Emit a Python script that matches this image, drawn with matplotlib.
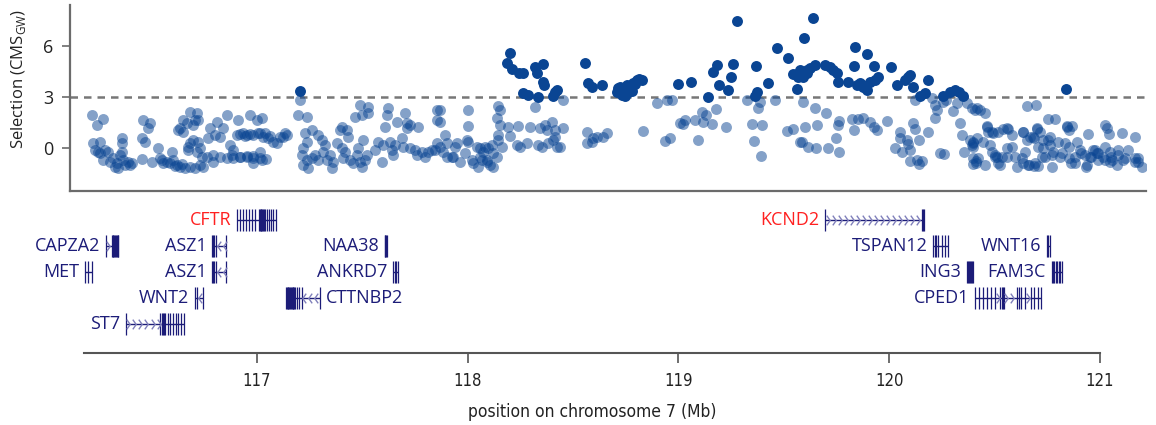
import numpy as np
import matplotlib
matplotlib.use("Agg")
import matplotlib.pyplot as plt
from matplotlib.path import Path

plt.rcParams['font.family'] = ['Open Sans', 'DejaVu Sans']
plt.rcParams['mathtext.fontset'] = 'custom'
plt.rcParams['mathtext.rm'] = 'Open Sans'

# [ CMS SCORES ALONG THE REGION ] position in Mb, score
#=============================================================================
pos_a = [116.217, 116.240, 116.272, 116.224, 116.232, 116.256, 116.248, 116.280, 116.295, 116.272,
         116.319, 116.327, 116.335, 116.359, 116.359, 116.359, 116.351, 116.366, 116.398, 116.374,
         116.461, 116.493, 116.485, 116.454, 116.469, 116.454, 116.501, 116.532, 116.548, 116.572,
         116.596, 116.588, 116.603, 116.619, 116.635, 116.659, 116.682, 116.706, 116.730, 116.746,
         116.682, 116.674, 116.682, 116.714, 116.706, 116.651, 116.635, 116.667, 116.698, 116.722,
         116.651, 116.627, 116.698, 116.722, 116.714, 116.738, 116.769, 116.777, 116.809, 116.840,
         116.801, 116.825, 116.856, 116.793, 116.762, 116.793, 116.825, 116.856, 116.872, 116.888,
         116.888, 116.911, 116.904, 116.935, 116.951, 116.967, 116.983, 116.919, 116.951, 116.983,
         116.998, 117.006, 116.919, 116.943, 116.967, 117.038, 117.062, 117.123, 117.142, 116.882,
         116.919, 116.953, 116.981, 117.014, 117.043, 116.981, 116.256, 116.303, 116.343, 116.390,
         116.408, 116.540, 116.555, 116.612, 116.645, 116.673, 116.730]
cms_a = [1.94, 1.35, 1.69, 0.28, -0.12, 0.37, -0.22, -0.12, -0.22, -0.71,
         -0.61, -1.10, -0.90, 0.57, 0.28, -0.22, -0.41, -0.71, -1.00, -1.00,
         1.65, 1.45, 1.16, 0.57, 0.37, -0.67, -0.80, -0.02, -0.71, -0.80,
         -0.22, -0.90, -0.71, -1.00, -1.10, -1.20, -1.10, -1.20, -1.00, -1.10,
         0.28, -0.12, 2.14, 2.04, 1.65, 1.65, 1.16, 1.45, 1.35, 1.65,
         0.96, 1.06, 0.47, 0.37, -0.22, -0.51, 0.57, 1.16, 1.55, 1.16,
         0.76, 0.67, 1.94, -0.41, -0.51, -0.80, -0.51, -0.61, 0.18, -0.12,
         -0.61, 1.65, 0.76, 0.86, 0.76, 1.94, 0.76, -0.51, -0.51, -0.61,
         1.65, 0.86, 0.82, 0.71, 0.82, 0.88, 0.71, 0.65, 0.76, -0.41,
         -0.53, -0.47, -0.47, -0.59, -0.65, -0.88, -0.30, -0.80, -1.15, -0.85,
         -0.88, -0.59, -0.88, -1.05, -0.95, 0.06, -0.02]

pos_b = [117.204, 117.204, 117.196, 117.236, 117.022, 117.014, 117.030, 117.054, 117.077, 117.093,
         117.109, 117.133, 117.022, 117.014, 117.227, 117.259, 117.291, 117.307, 117.219, 117.236,
         117.212, 117.236, 117.259, 117.219, 117.243, 117.275, 117.291, 117.314, 117.322, 117.330,
         117.346, 117.354, 117.362, 117.378, 117.393, 117.401, 117.433, 117.425, 117.401, 117.417,
         117.409, 117.441, 117.457, 117.480, 117.472, 117.488, 117.496, 117.512, 117.520, 117.464,
         117.488, 117.528, 117.496, 117.528, 117.504, 117.559, 117.575, 117.591, 117.599, 117.615,
         117.623, 117.607, 117.630, 117.638, 117.646, 117.662, 117.654, 117.686, 117.701, 117.709,
         117.725, 117.764, 117.709, 117.694, 117.725, 117.749, 117.757, 117.780, 117.796, 117.812,
         117.828, 117.844, 117.852, 117.852, 117.852]
cms_b = [3.35, 2.82, 1.94, 1.84, 1.75, 0.86, 0.67, 0.57, 0.37, 0.28,
         0.67, 0.86, -0.71, -0.22, 0.86, 1.06, 0.76, 0.47, -0.02, 0.37,
         -0.41, -0.71, -0.61, -1.00, -1.20, -0.41, -0.71, -0.22, 0.18, -0.71,
         -0.41, -1.20, -0.80, 0.28, 1.06, 1.25, 0.67, 1.06, -0.02, -0.22,
         -0.61, -0.71, -0.90, -0.02, -0.41, -0.80, -1.10, -0.71, -0.41, 1.84,
         2.53, 2.43, 1.94, 2.04, 0.47, -0.12, 0.37, -0.80, 0.18, 1.94,
         2.33, 1.25, 0.37, -0.12, -0.41, 1.55, 0.18, 0.57, 2.04, 1.45,
         1.35, 1.25, 1.20, 0.08, -0.02, -0.12, -0.41, -0.22, -0.51, -0.22,
         -0.12, -0.12, 0.28, 1.65, 2.24]

pos_c = [118.199, 118.183, 118.207, 118.243, 118.259, 118.318, 118.354, 118.325, 118.357, 118.360,
         118.262, 118.286, 118.333, 118.412, 118.404, 118.420, 118.555, 118.570, 118.586, 118.636,
         118.705, 118.452, 118.318, 118.144, 118.152, 118.136, 118.152, 118.191, 118.238, 118.294,
         118.341, 118.365, 118.397, 118.452, 118.373, 118.412, 118.199, 118.144, 118.231, 118.246,
         118.278, 118.333, 118.349, 118.381, 118.404, 118.420, 118.436, 118.412, 118.001, 118.001,
         117.867, 117.867, 117.891, 117.867, 117.899, 117.938, 117.946, 118.001, 118.041, 118.057,
         118.081, 118.096, 118.112, 118.144, 118.160, 118.073, 118.120, 117.930, 117.962, 117.986,
         118.018, 118.025, 118.049, 118.065, 118.088, 118.104, 118.120, 118.136, 117.883, 117.899,
         118.562, 118.562, 118.594, 118.610, 118.641, 118.657, 118.586, 118.057, 118.090, 117.924,
         117.995]
cms_c = [5.61, 4.98, 4.63, 4.39, 4.43, 4.78, 4.94, 4.39, 3.90, 3.71,
         3.22, 3.12, 3.02, 3.31, 3.06, 3.41, 5.02, 3.81, 3.61, 3.71,
         3.31, 2.82, 2.39, 2.47, 2.24, 1.75, 1.35, 1.25, 1.29, 1.25,
         1.16, 1.35, 1.55, 1.16, 1.06, 1.06, 0.71, 0.76, 0.18, 0.08,
         0.28, 0.18, 0.08, 0.28, 0.47, 0.08, 0.08, 0.67, 2.24, 1.29,
         2.24, 1.55, 0.76, 0.08, 0.28, 0.08, 0.28, 0.37, 0.08, -0.02,
         0.08, -0.02, 0.18, 0.47, 0.08, -0.22, -0.32, -0.51, -0.80, -0.32,
         -0.71, -0.90, -1.10, -0.71, -0.80, -1.00, -1.10, -0.51, -0.22, -0.51,
         0.96, 0.28, 0.57, 0.67, 0.67, 0.86, 0.37, -0.53, -0.70, -0.53,
         0.47]

pos_d = [119.273, 118.720, 118.736, 118.752, 118.768, 118.752, 118.784, 118.799, 118.823, 118.775,
         118.994, 119.057, 119.139, 119.163, 119.182, 119.191, 119.234, 119.245, 119.257, 119.360,
         119.371, 119.363, 119.420, 119.466, 119.515, 119.541, 119.557, 119.565, 118.710, 118.728,
         118.744, 118.760, 118.790, 118.812, 118.894, 118.942, 118.965, 118.828, 118.934, 118.957,
         119.005, 119.028, 119.020, 119.076, 119.107, 119.115, 119.128, 119.155, 119.175, 119.088,
         119.223, 119.324, 119.344, 119.392, 119.373, 119.384, 119.357, 119.389, 119.453, 119.510,
         119.541, 119.573]
cms_d = [7.49, 3.61, 3.41, 3.71, 3.51, 3.22, 3.81, 4.00, 4.00, 3.35,
         3.76, 3.90, 3.02, 4.49, 4.88, 3.71, 3.41, 4.19, 4.92, 3.08,
         3.27, 4.82, 3.84, 5.86, 5.31, 4.35, 3.45, 4.19, 3.50, 3.10,
         3.05, 3.30, 3.75, 4.05, 2.63, 2.82, 2.82, 1.02, 0.43, 0.57,
         1.45, 1.65, 1.39, 1.65, 2.14, 1.55, 1.94, 1.39, 2.29, 0.47,
         1.25, 2.82, 1.39, 1.35, 2.33, 2.73, 0.41, -0.47, 2.82, 1.02,
         1.12, 0.37]

pos_e = [119.637, 119.592, 119.834, 119.892, 119.573, 119.605, 119.589, 119.645, 119.692, 119.716,
         119.732, 119.748, 119.755, 119.803, 119.827, 119.843, 119.867, 119.890, 119.905, 119.924,
         119.929, 119.945, 120.004, 120.033, 120.071, 120.087, 120.110, 120.181, 120.142, 120.166,
         120.251, 120.284, 120.308, 120.328, 120.344, 119.858, 119.872, 119.607, 119.620, 120.095,
         119.589, 119.645, 119.697, 119.597, 119.652, 119.581, 119.613, 119.649, 119.704, 119.757,
         119.744, 119.752, 119.760, 119.820, 119.847, 119.870, 119.827, 119.905, 119.924, 119.940,
         119.985, 120.047, 120.047, 120.079, 120.024, 120.055, 120.095, 120.087, 120.110, 120.118,
         120.139, 120.181, 120.095, 120.126, 120.150, 120.139, 120.118, 120.197, 120.213, 120.221,
         120.213, 120.251, 120.267, 120.299, 120.315, 120.332, 120.340, 120.351, 120.237, 120.256,
         120.364, 120.387, 120.403, 120.411, 120.395, 120.387, 120.408, 120.392, 120.419]
cms_e = [7.67, 6.49, 5.92, 5.51, 4.59, 4.59, 4.19, 4.88, 4.88, 4.78,
         4.59, 4.39, 3.90, 3.90, 4.82, 3.71, 3.71, 3.41, 3.90, 4.82,
         4.00, 4.19, 4.78, 3.71, 4.00, 4.19, 3.61, 4.00, 3.05, 3.22,
         3.08, 3.27, 3.41, 3.27, 3.08, 3.82, 3.60, 4.41, 4.70, 4.30,
         2.73, 2.33, 2.04, 1.25, 1.35, 0.37, 0.08, 0.02, -0.02, -0.22,
         0.61, 1.35, 1.59, 1.71, 1.71, 1.78, 1.06, 1.51, 1.22, 1.06,
         1.59, 0.96, 0.57, 0.47, -0.02, -0.22, -0.12, 0.22, 1.45, 1.12,
         0.47, 0.96, -0.76, -0.71, -0.76, -0.96, 2.82, 2.92, 2.53, 2.24,
         1.75, 2.69, 2.82, 2.18, 2.63, 1.45, 0.76, -0.22, -0.32, -0.37,
         2.63, 2.33, 2.24, 2.33, 0.37, 0.18, -0.76, -0.96, -0.61]

pos_f = [120.834, 120.648, 120.692, 120.427, 120.450, 120.750, 120.782, 120.837, 120.850, 120.861,
         120.940, 121.019, 121.027, 121.040, 121.098, 121.161, 120.458, 120.466, 120.490, 120.513,
         120.537, 120.561, 120.577, 120.632, 120.664, 120.695, 120.711, 120.680, 120.379, 120.442,
         120.395, 120.474, 120.482, 120.498, 120.395, 120.450, 120.505, 120.529, 120.553, 120.521,
         120.577, 120.592, 120.600, 120.624, 120.640, 120.656, 120.680, 120.703, 120.719, 120.727,
         120.750, 120.758, 120.774, 120.766, 120.798, 120.814, 120.829, 120.850, 120.850, 120.877,
         120.885, 120.900, 120.924, 120.932, 120.948, 120.963, 120.980, 120.987, 121.011, 121.019,
         121.043, 121.051, 121.074, 121.082, 121.114, 121.130, 121.161, 121.177, 121.193, 120.407,
         120.496, 120.512, 120.628, 120.660, 120.687, 120.735, 120.768, 120.806, 120.858, 120.877,
         120.905, 120.929, 120.953, 120.972, 120.986, 121.019, 121.043, 121.047, 121.080, 121.104,
         121.161, 121.175, 120.460, 120.483, 120.553, 120.630, 120.697, 120.678, 120.758, 120.839,
         120.393, 120.412, 120.553, 120.649, 120.701, 120.727]
cms_f = [3.45, 2.47, 2.53, 2.24, 2.08, 1.69, 1.69, 1.29, 1.06, 1.29,
         0.82, 1.35, 1.16, 0.82, 0.86, 0.67, 1.29, 0.96, 0.86, 0.96,
         1.10, 1.10, 0.76, 0.96, 0.67, 1.10, 0.96, 0.57, 0.47, 0.37,
         0.08, 0.18, -0.22, -0.41, -0.61, -1.00, -0.55, -0.55, -0.51, -1.00,
         0.08, -0.51, -1.10, -0.61, -0.22, -1.00, -1.06, -1.06, -0.51, -0.02,
         0.47, 0.18, -0.22, -1.10, 0.37, -0.32, 0.31, 0.08, -0.61, -0.90,
         0.37, -0.12, -0.41, -1.00, -0.51, -0.12, -0.32, -0.71, -0.51, 0.08,
         -0.22, -0.71, -1.00, -0.12, -0.61, -0.12, -0.61, -0.80, -1.10, -0.88,
         -0.53, -0.88, -0.88, -1.00, -0.88, -0.53, -0.41, -0.53, -0.88, -0.53,
         -0.30, -1.12, -0.53, -0.12, -0.30, -0.71, -0.82, -0.53, -0.41, -0.71,
         -0.82, -0.59, 1.24, 0.94, 1.18, 0.94, 1.18, 0.65, 0.65, 1.24,
         0.28, 0.59, 0.00, 0.47, 0.06, 0.47]

threshold = 3

# [ GENES ]  name, track row, strand, exon positions (Mb) - first/last = gene ends
#=============================================================================
gene_names  = ['CFTR', 'CAPZA2', 'ASZ1', 'NAA38', 'MET', 'ASZ1', 'ANKRD7', 'WNT2', 'CTTNBP2', 'ST7',
               'KCND2', 'TSPAN12', 'WNT16', 'ING3', 'FAM3C', 'CPED1']
gene_rows   = [0, 1, 1, 1, 2, 2, 2, 3, 3, 4,
               0, 1, 1, 2, 2, 3]
gene_strand = ['+', '+', '-', '+', '+', '-', '+', '-', '-', '+',
               '+', '-', '+', '+', '-', '+']
gene_exons = [
    [116.905, 116.919, 116.934, 116.948, 116.962, 116.976, 116.991, 117.009, 117.013, 117.017,
     117.021, 117.024, 117.028, 117.031, 117.038, 117.047, 117.057, 117.066, 117.076, 117.090],
    [116.284, 116.312, 116.316, 116.320, 116.324, 116.328, 116.332, 116.336, 116.340, 116.343],
    [116.787, 116.791, 116.796, 116.806, 116.853],
    [117.605, 117.609, 117.613, 117.618],
    [116.185, 116.201, 116.220],
    [116.787, 116.791, 116.796, 116.806, 116.853],
    [117.645, 117.655, 117.659, 117.668],
    [116.706, 116.716, 116.744],
    [117.137, 117.141, 117.145, 117.149, 117.153, 117.157, 117.161, 117.165, 117.169, 117.173,
     117.177, 117.181, 117.189, 117.201, 117.212, 117.299],
    [116.379, 116.540, 116.548, 116.556, 116.560, 116.566, 116.578, 116.590, 116.602,
     116.615, 116.628, 116.640, 116.654],
    [119.692, 120.151, 120.156, 120.161],
    [120.204, 120.212, 120.220, 120.227, 120.246, 120.261, 120.275],
    [120.743, 120.750, 120.758],
    [120.363, 120.368, 120.373, 120.378, 120.383, 120.388, 120.392],
    [120.766, 120.773, 120.779, 120.786, 120.793, 120.800, 120.807, 120.814],
    [120.403, 120.422, 120.441, 120.460, 120.479, 120.498, 120.521, 120.531, 120.535,
     120.539, 120.602, 120.611, 120.621, 120.640, 120.668, 120.682, 120.701, 120.714],
]
highlight = ['CFTR', 'KCND2']
label_right = ['CTTNBP2']

x_ticks = [117, 118, 119, 120, 121]

# FIGURE
#¨¨¨¨¨¨¨¨¨¨¨¨¨¨¨¨¨¨¨¨¨¨¨¨¨¨¨¨¨¨¨¨¨¨¨¨¨¨¨¨¨¨¨¨¨¨¨¨¨¨¨¨¨¨¨¨¨¨¨¨¨¨¨¨¨¨¨¨¨¨¨¨¨¨¨¨¨¨
pos = np.concatenate([pos_a, pos_b, pos_c, pos_d, pos_e, pos_f])
cms = np.concatenate([cms_a, cms_b, cms_c, cms_d, cms_e, cms_f])

blue = '#0a4593'
navy = '#1c1c78'
grey = '#6b6b6b'
xlim = (116.114, 121.213)
narrow = dict(family=['DejaVu Sans'], stretch='condensed')

fig = plt.figure(figsize=(11.56, 4.25), dpi=100)

ax = fig.add_axes([0.06055, 0.55059, 0.93080, 0.43765])
low = cms < threshold
ax.scatter(pos[low], cms[low], s=62, color=blue, alpha=0.5, linewidths=0, zorder=2)
ax.scatter(pos[~low], cms[~low], s=62, color=blue, linewidths=0, zorder=3)
ax.axhline(threshold, color='#777777', lw=1.8, dashes=(3.0, 2.4), zorder=1)
ax.set_xlim(*xlim)
ax.set_ylim(-2.53, 8.41)
for s in ['top', 'right']:
    ax.spines[s].set_visible(False)
for s in ['left', 'bottom']:
    ax.spines[s].set_color(grey)
    ax.spines[s].set_linewidth(1.6)
ax.set_xticks([])
ax.set_yticks([0, 3, 6])
ax.tick_params(axis='y', length=6, width=1.2, color=grey, labelsize=13, pad=6, labelcolor='#222222')
ax.set_ylabel('Selection (CMS$_{\\mathrm{GW}}$)', fontsize=12, color='#222222')
ax.yaxis.set_label_coords(-0.039, 0.6)

# gene track
axg = fig.add_axes([0.06055, 0.20706, 0.93080, 0.30588])
axg.set_xlim(*xlim)
axg.set_ylim(4.5, -0.5)
axg.axis('off')

chev_r = Path([(-0.35, 1.0), (0.35, 0.0), (-0.35, -1.0)], [Path.MOVETO, Path.LINETO, Path.LINETO])
chev_l = Path([(0.35, 1.0), (-0.35, 0.0), (0.35, -1.0)], [Path.MOVETO, Path.LINETO, Path.LINETO])
half = 0.43
for name, row, strand, exons in zip(gene_names, gene_rows, gene_strand, gene_exons):
    start, end = exons[0], exons[-1]
    axg.hlines(row, start, end, color=navy, lw=1.0)
    axg.vlines(exons, row - half, row + half, color=navy, lw=0.9)
    # strand chevrons inside introns
    for a, b in zip(exons[:-1], exons[1:]):
        if b - a > 0.02:
            xs = np.arange(a + 0.012, b - 0.006, 0.0285)
            axg.plot(xs, np.full(len(xs), row), ls='none',
                     marker=chev_r if strand == '+' else chev_l, markersize=7,
                     markerfacecolor='none', markeredgecolor='#8080bb', markeredgewidth=1.0)
    col = '#ff2020' if name in highlight else navy
    if name in label_right:
        axg.annotate(name, (end, row), xytext=(4, 0), textcoords='offset points',
                     ha='left', va='center', fontsize=13, color=col)
    else:
        axg.annotate(name, (start, row), xytext=(-4, 0), textcoords='offset points',
                     ha='right', va='center', fontsize=13, color=col)

# position axis
axb = fig.add_axes([0.07266, 0.16941, 0.87889, 0.001])
axb.patch.set_visible(False)
axb.set_xlim(116.180, 121.0)
for s in ['top', 'right', 'left']:
    axb.spines[s].set_visible(False)
axb.spines['bottom'].set_color('#555555')
axb.spines['bottom'].set_linewidth(1.5)
axb.set_yticks([])
axb.set_xticks(x_ticks)
axb.set_xticklabels([str(t) for t in x_ticks], **narrow)
axb.tick_params(axis='x', length=7, width=1.2, color='#555555', labelsize=12, pad=7, labelcolor='#222222')
axb.set_xlabel('position on chromosome 7 (Mb)', fontsize=12.5, labelpad=9, color='#222222', **narrow)

fig.savefig('out.png', dpi=100)
